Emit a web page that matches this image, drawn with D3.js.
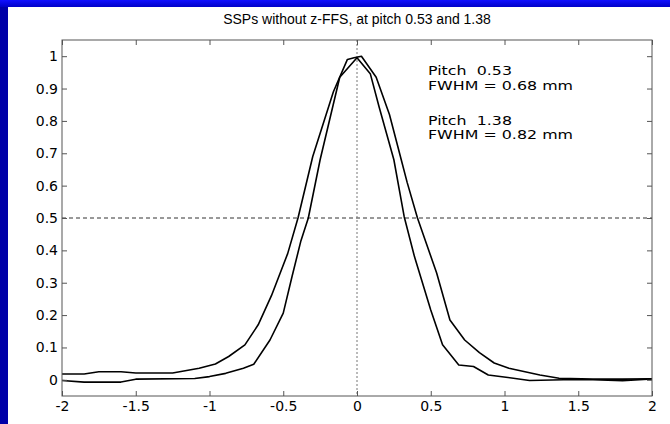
<!DOCTYPE html>
<html lang="en">
    <head>
        <meta charset="utf-8">
        <title>SSPs without z-FFS</title>
        <script src="https://d3js.org/d3.v7.min.js"></script>
        <style type="text/css">
            html, body { margin: 0; background: #fff; overflow: hidden; }
            .axis text { font-family: "DejaVu Sans", sans-serif; font-size: 14px; fill: #000; }
            .axis line { stroke: #555; }
            .note { font-family: "DejaVu Sans", sans-serif; font-size: 13px; fill: #000; white-space: pre; }
        </style>
    </head>
    <body>
        <script type="text/javascript">

            //consts
            const w = 670;
            const h = 424;
            const plotL = 62, plotR = 652, plotT = 40, plotB = 396;

            //data
            const title = "SSPs without z-FFS, at pitch 0.53 and 1.38";
            const xTicks = [-2, -1.5, -1, -0.5, 0, 0.5, 1, 1.5, 2];
            const yTicks = [0, 0.1, 0.2, 0.3, 0.4, 0.5, 0.6, 0.7, 0.8, 0.9, 1];

            // pitch 1.38 (wider profile)
            const x138 = [-2, -1.85, -1.75, -1.6, -1.5, -1.25, -1.07, -0.96, -0.87, -0.76, -0.67, -0.58, -0.47, -0.40, -0.30, -0.16, -0.065, -0.02, 0.03, 0.13, 0.22, 0.30, 0.34, 0.41, 0.54, 0.63, 0.73, 0.83, 0.93, 1.03, 1.24, 1.37, 1.6, 1.8, 2.0];
            const y138 = [0.018, 0.018, 0.025, 0.025, 0.021, 0.021, 0.036, 0.049, 0.072, 0.108, 0.17, 0.26, 0.39, 0.50, 0.69, 0.89, 0.99, 0.995, 1.0, 0.935, 0.82, 0.68, 0.61, 0.50, 0.33, 0.185, 0.123, 0.084, 0.052, 0.036, 0.015, 0.005, 0.002, 0.002, 0.003];

            // pitch 0.53 (narrower profile)
            const x053 = [-2, -1.85, -1.6, -1.5, -1.1, -1.0, -0.89, -0.77, -0.70, -0.59, -0.50, -0.44, -0.38, -0.33, -0.25, -0.117, 0.0, 0.09, 0.15, 0.25, 0.32, 0.39, 0.50, 0.58, 0.69, 0.79, 0.89, 1.01, 1.17, 1.4, 1.6, 1.8, 2.0];
            const y053 = [-0.002, -0.007, -0.007, 0.002, 0.004, 0.01, 0.02, 0.036, 0.048, 0.123, 0.206, 0.32, 0.43, 0.50, 0.68, 0.935, 0.995, 0.946, 0.843, 0.68, 0.504, 0.38, 0.216, 0.108, 0.046, 0.041, 0.015, 0.008, -0.002, 0.0, 0.0, -0.003, 0.003];

            const notes = ["Pitch  0.53", "FWHM = 0.68 mm", "Pitch  1.38", "FWHM = 0.82 mm"];
            const noteY = [75, 90, 125, 139];

            //scales
            const xScale = d3.scaleLinear().domain([-2, 2]).range([plotL, plotR]);
            const yScale = d3.scaleLinear().domain([-0.05, 1.05]).range([plotB, plotT]);
            const fmt = d => String(d);

            //SVG
            const svg = d3.select("body")
                    .append("svg")
                    .attr("width", w)
                    .attr("height", h)
                    .style("display", "block");

            const grad = svg.append("defs").append("linearGradient")
                    .attr("id", "topband").attr("x1", 0).attr("y1", 0).attr("x2", 0).attr("y2", 1);
            grad.append("stop").attr("offset", "0%").attr("stop-color", "#1010ff");
            grad.append("stop").attr("offset", "100%").attr("stop-color", "#0000c8");

            svg.append("rect").attr("x", 0).attr("y", 0).attr("width", w).attr("height", h).attr("fill", "#fff");
            svg.append("rect").attr("x", 0).attr("y", 0).attr("width", 8).attr("height", h).attr("fill", "#0000a8");
            svg.append("rect").attr("x", 0).attr("y", 0).attr("width", w).attr("height", 7).attr("fill", "url(#topband)");

            //title
            svg.append("text")
               .attr("x", (plotL + plotR) / 2)
               .attr("y", 24)
               .attr("text-anchor", "middle")
               .style("font-family", "'Liberation Sans', Arial, sans-serif")
               .style("font-size", "14px")
               .text(title);

            //reference lines
            svg.append("line")
               .attr("x1", plotL).attr("x2", plotR)
               .attr("y1", yScale(0.5)).attr("y2", yScale(0.5))
               .attr("stroke", "#333").attr("stroke-dasharray", "4,3");
            svg.append("line")
               .attr("x1", xScale(0)).attr("x2", xScale(0))
               .attr("y1", plotT).attr("y2", plotB)
               .attr("stroke", "#777").attr("stroke-dasharray", "2,2");

            //curves
            const line = d3.line().x(d => xScale(d[0])).y(d => yScale(d[1]));
            [[x138, y138], [x053, y053]].forEach(s => {
                svg.append("path")
                   .datum(s[0].map((x, i) => [x, s[1][i]]))
                   .attr("d", line)
                   .attr("fill", "none")
                   .attr("stroke", "#000")
                   .attr("stroke-width", 1.6)
                   .attr("stroke-linejoin", "round");
            });

            //axes (ticks inward, MATLAB box style)
            svg.append("g").attr("class", "axis")
               .attr("transform", "translate(0," + plotB + ")")
               .call(d3.axisBottom(xScale).tickValues(xTicks).tickSize(-5).tickPadding(5).tickFormat(fmt).tickSizeOuter(0))
               .call(g => g.select(".domain").remove());
            svg.append("g").attr("class", "axis")
               .attr("transform", "translate(0," + plotT + ")")
               .call(d3.axisTop(xScale).tickValues(xTicks).tickSize(-5).tickFormat("").tickSizeOuter(0))
               .call(g => g.select(".domain").remove());
            svg.append("g").attr("class", "axis")
               .attr("transform", "translate(" + plotL + ",0)")
               .call(d3.axisLeft(yScale).tickValues(yTicks).tickSize(-5).tickPadding(4).tickFormat(fmt).tickSizeOuter(0))
               .call(g => g.select(".domain").remove());
            svg.append("g").attr("class", "axis")
               .attr("transform", "translate(" + plotR + ",0)")
               .call(d3.axisRight(yScale).tickValues(yTicks).tickSize(-5).tickFormat("").tickSizeOuter(0))
               .call(g => g.select(".domain").remove());

            //box
            svg.append("rect")
               .attr("x", plotL).attr("y", plotT)
               .attr("width", plotR - plotL).attr("height", plotB - plotT)
               .attr("fill", "none").attr("stroke", "#555");

            //annotation (text is horizontally stretched in the original)
            svg.selectAll("text.note")
               .data(notes)
               .enter()
               .append("text")
               .attr("class", "note")
               .attr("transform", (d, i) => "translate(428," + noteY[i] + ") scale(1.22,1)")
               .text(d => d);
        </script>
    </body>
</html>
